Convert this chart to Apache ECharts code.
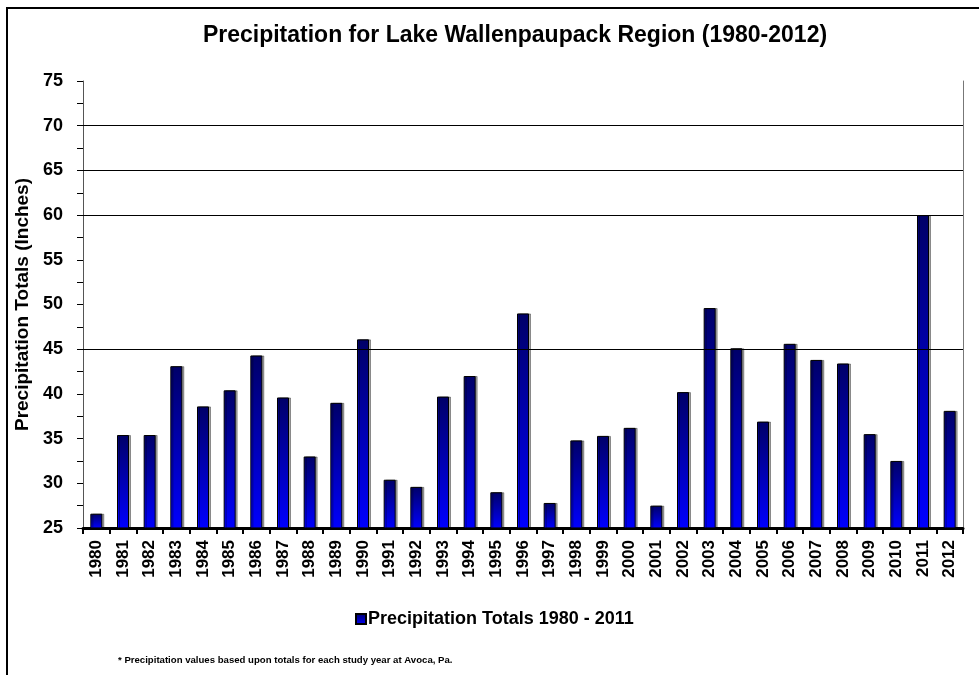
<!DOCTYPE html>
<html>
<head>
<meta charset="utf-8">
<script src="https://cdn.jsdelivr.net/npm/echarts@6/dist/echarts.min.js"></script>
<style>
html,body{margin:0;padding:0;background:#fff;}
#frame{position:absolute;left:6px;top:7px;width:973px;height:668px;border-left:2px solid #000;border-top:2px solid #000;box-sizing:border-box;}
#chart{position:absolute;left:0;top:0;width:979px;height:675px;}
</style>
</head>
<body>
<div id="frame"></div>
<div id="chart"></div>
<script>
const years = ['1980','1981','1982','1983','1984','1985','1986','1987','1988','1989','1990','1991','1992','1993','1994','1995','1996','1997','1998','1999','2000','2001','2002','2003','2004','2005','2006','2007','2008','2009','2010','2011','2012'];
const precipitation = [26.6,35.4,35.4,43.1,38.6,40.4,44.3,39.6,33.0,39.0,46.1,30.4,29.6,39.7,42.0,29.0,49.0,27.8,34.8,35.3,36.2,27.5,40.2,49.6,45.1,36.9,45.6,43.8,43.4,35.5,32.5,60.0,38.1];
const gridValues = [45,60,65,70];
const titleText = 'Precipitation for Lake Wallenpaupack Region (1980-2012)';
const yAxisName = 'Precipitation Totals (Inches)';
const seriesName = 'Precipitation Totals 1980 - 2011';
const footnote = '* Precipitation values based upon totals for each study year at Avoca, Pa.';

const chart = echarts.init(document.getElementById('chart'));
chart.setOption({
  backgroundColor: 'transparent',
  animation: false,
  title: {
    text: titleText,
    left: 510, top: 19, textAlign: 'center',
    textStyle: {fontFamily: 'Arial, Liberation Sans', fontWeight: 'bold', fontSize: 23, color: '#000'}
  },
  legend: {
    data: [seriesName],
    left: 350, top: 605,
    itemWidth: 10, itemHeight: 10, itemGap: 4,
    icon: 'rect',
    textStyle: {fontFamily: 'Arial, Liberation Sans', fontWeight: 'bold', fontSize: 18, color: '#000', padding: [0,0,0,-3]}
  },
  graphic: [{
    type: 'text', left: 118, top: 655,
    style: {text: footnote, font: 'bold 9.6px Arial, Liberation Sans', fill: '#000'}
  }],
  grid: {left: 83, right: 16, top: 81, bottom: 147, outerBoundsMode: 'none', containLabel: false},
  xAxis: {
    type: 'category', data: years,
    axisLine: {lineStyle: {color: '#000', width: 3}},
    axisTick: {show: true, alignWithLabel: false, length: 6, lineStyle: {color: '#000', width: 2}},
    axisLabel: {rotate: 90, margin: 12, fontFamily: 'Arial, Liberation Sans', fontWeight: 'bold', fontSize: 17, color: '#000'},
    splitLine: {show: false}
  },
  yAxis: [{
    type: 'value', min: 25, max: 75, interval: 5,
    name: yAxisName, nameLocation: 'middle', nameGap: 48,
    nameTextStyle: {fontFamily: 'Arial, Liberation Sans', fontWeight: 'bold', fontSize: 19, color: '#000'},
    axisLine: {show: true, lineStyle: {color: '#555', width: 1}},
    axisTick: {show: true, length: 6, lineStyle: {color: '#000'}},
    minorTick: {show: true, splitNumber: 2, length: 6, lineStyle: {color: '#000'}},
    axisLabel: {margin: 20, fontFamily: 'Arial, Liberation Sans', fontWeight: 'bold', fontSize: 18, color: '#000'},
    splitLine: {show: false}
  }, {
    type: 'value', min: 25, max: 75, position: 'right',
    axisLine: {show: true, lineStyle: {color: '#777', width: 1}},
    axisTick: {show: false}, axisLabel: {show: false}, splitLine: {show: false}
  }],
  series: [{
    name: seriesName, type: 'bar', data: precipitation, barWidth: 12,
    itemStyle: {
      color: new echarts.graphic.LinearGradient(0,0,0,1,[{offset:0,color:'#000068'},{offset:1,color:'#0000ff'}]),
      borderColor: '#000', borderWidth: 1,
      shadowColor: 'rgba(0,0,0,0.35)', shadowOffsetX: 2, shadowOffsetY: 0, shadowBlur: 0
    },
    markLine: {
      silent: true, symbol: 'none', label: {show: false},
      lineStyle: {color: '#000', width: 1, type: 'solid'},
      data: gridValues.map(v => ({yAxis: v}))
    }
  }]
});
</script>
</body>
</html>
